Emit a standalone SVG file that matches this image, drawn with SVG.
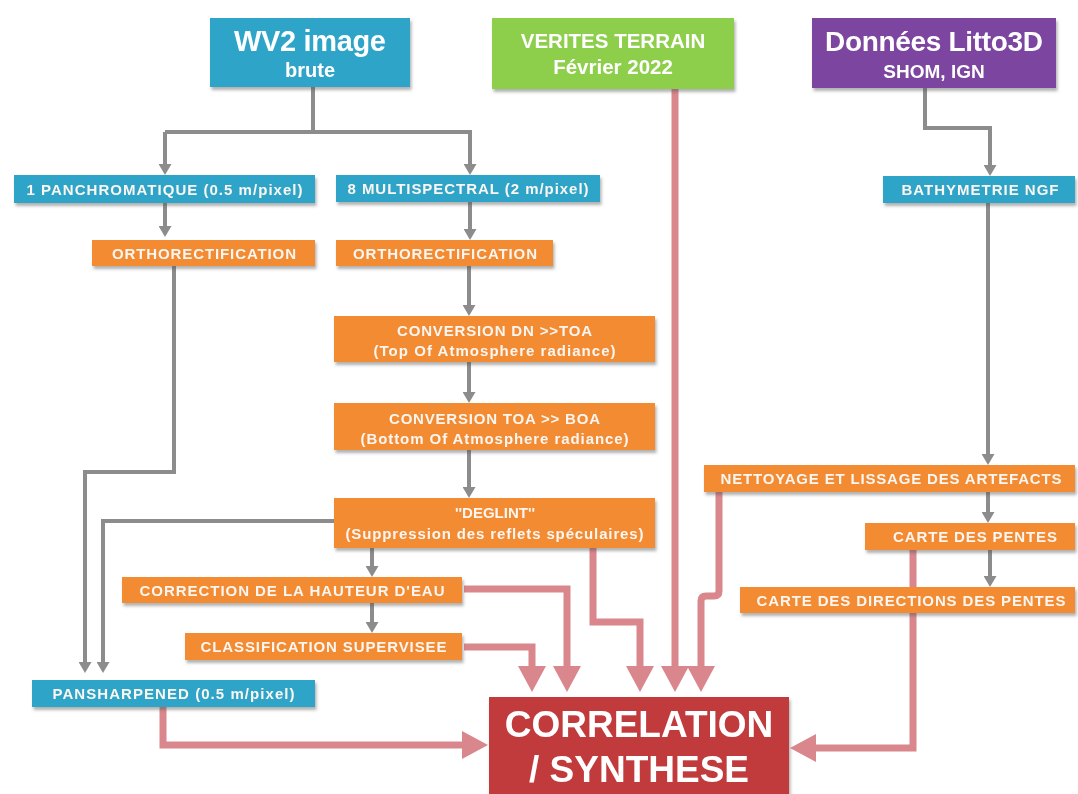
<svg xmlns="http://www.w3.org/2000/svg" width="1078" height="794" viewBox="0 0 1078 794">
  <defs>
    <filter id="shadow" x="-10%" y="-20%" width="120%" height="160%">
      <feDropShadow dx="1.5" dy="3" stdDeviation="1.6" flood-color="#555" flood-opacity="0.45"/>
    </filter>
    <marker id="gray-head" markerUnits="userSpaceOnUse" markerWidth="11" markerHeight="13" refX="0" refY="6.5" orient="auto">
      <path d="M0,0 L11,6.5 L0,13 z" fill="#8c8c8c"/>
    </marker>
    <marker id="pink-head" markerUnits="userSpaceOnUse" markerWidth="26" markerHeight="28" refX="0" refY="14" orient="auto">
      <path d="M0,0 L26,14 L0,28 z" fill="#d9878c"/>
    </marker>
  </defs>
  <style>
    .gray { fill: none; stroke: #8c8c8c; stroke-width: 4; marker-end: url(#gray-head); }
    .gray-plain { fill: none; stroke: #8c8c8c; stroke-width: 4; }
    .pink { fill: none; stroke: #d9878c; stroke-width: 7; marker-end: url(#pink-head); }
    .box { filter: url(#shadow); }
    .teal { fill: #2fa4c8; }
    .orange { fill: #f38b33; }
    .green { fill: #8dce4c; }
    .purple { fill: #7b44a0; }
    .red { fill: #c13a3c; }
    .lbl { font-family: "Liberation Sans", Arial, sans-serif; font-weight: bold; font-size: 15px; fill: #fbf6f1; text-anchor: middle; }
    .big { font-family: "Liberation Sans", Arial, sans-serif; font-weight: bold; fill: #ffffff; text-anchor: middle; }
  </style>

  <rect x="0" y="0" width="1078" height="794" fill="#ffffff"/>

  <!-- connectors -->
  <g id="connectors">
    <!-- gray flow -->
    <path class="gray-plain" d="M313,87 V132 H165"/>
    <path class="gray" d="M165,132 V164"/>
    <path class="gray" d="M313,132 H470 V164"/>
    <path class="gray" d="M165,203 V226"/>
    <path class="gray" d="M470,202 V229"/>
    <path class="gray" d="M174,266 V472 H85 V662"/>
    <path class="gray" d="M334,521 H103 V662"/>
    <path class="gray" d="M469,266 V305"/>
    <path class="gray" d="M469,362 V392"/>
    <path class="gray" d="M469,450 V487"/>
    <path class="gray" d="M372,548 V566"/>
    <path class="gray" d="M372,603 V622"/>
    <path class="gray" d="M925,88 V128 H990 V165"/>
    <path class="gray" d="M988,203 V454"/>
    <path class="gray" d="M988,492 V512"/>
    <path class="gray" d="M990,550 V576"/>

    <!-- pink flow into CORRELATION / SYNTHESE -->
    <path class="pink" d="M163,707 V745 H462"/>
    <path class="pink" d="M464,647 H532 V666"/>
    <path class="pink" d="M464,589 H567 V666"/>
    <path class="pink" d="M593,548 V622 H640 V666"/>
    <path class="pink" d="M675,89 V666"/>
    <path class="pink" d="M719,492 V591 Q719,596 714,596 H706 Q701,596 701,601 V666"/>
    <path class="pink" d="M913,550 V748 H816"/>
  </g>

  <!-- sources -->
  <g id="wv2" class="box">
    <rect class="teal" x="210" y="18" width="200" height="69"/>
    <text class="big" x="310" y="51" font-size="29" textLength="152">WV2 image</text>
    <text class="big" x="310" y="77" font-size="20">brute</text>
  </g>
  <g id="verites" class="box">
    <rect class="green" x="492" y="18" width="242" height="71"/>
    <text class="big" x="613" y="48" font-size="20.5">VERITES TERRAIN</text>
    <text class="big" x="613" y="74" font-size="20.5">Février 2022</text>
  </g>
  <g id="litto3d" class="box">
    <rect class="purple" x="812" y="18" width="244" height="70"/>
    <text class="big" x="934" y="51" font-size="28" fill="#f3ecf5" textLength="218">Données Litto3D</text>
    <text class="big" x="934" y="78" font-size="19" fill="#f3ecf5">SHOM, IGN</text>
  </g>

  <!-- WV2 branch -->
  <g id="panchro" class="box">
    <rect class="teal" x="14" y="175" width="301" height="28"/>
    <text class="lbl" x="164.5" y="194.5" textLength="276">1 PANCHROMATIQUE (0.5 m/pixel)</text>
  </g>
  <g id="multispectral" class="box">
    <rect class="teal" x="336" y="175" width="264" height="27"/>
    <text class="lbl" x="468" y="194" textLength="241">8 MULTISPECTRAL (2 m/pixel)</text>
  </g>
  <g id="ortho-pan" class="box">
    <rect class="orange" x="92" y="240" width="223" height="26"/>
    <text class="lbl" x="204" y="258.5" textLength="184">ORTHORECTIFICATION</text>
  </g>
  <g id="ortho-ms" class="box">
    <rect class="orange" x="336" y="240" width="217" height="26"/>
    <text class="lbl" x="445" y="258.5" textLength="184">ORTHORECTIFICATION</text>
  </g>
  <g id="conv-dn-toa" class="box">
    <rect class="orange" x="334" y="316" width="321" height="46"/>
    <text class="lbl" x="494.5" y="336" textLength="195">CONVERSION DN &gt;&gt;TOA</text>
    <text class="lbl" x="494.5" y="356" textLength="242">(Top Of Atmosphere radiance)</text>
  </g>
  <g id="conv-toa-boa" class="box">
    <rect class="orange" x="334" y="403" width="321" height="47"/>
    <text class="lbl" x="494.5" y="424" textLength="211">CONVERSION TOA &gt;&gt; BOA</text>
    <text class="lbl" x="494.5" y="443.5" textLength="268">(Bottom Of Atmosphere radiance)</text>
  </g>
  <g id="deglint" class="box">
    <rect class="orange" x="334" y="498" width="321" height="50"/>
    <text class="lbl" x="495" y="518">''DEGLINT''</text>
    <text class="lbl" x="494.5" y="539" textLength="298">(Suppression des reflets spéculaires)</text>
  </g>
  <g id="correction" class="box">
    <rect class="orange" x="122" y="577" width="340" height="26"/>
    <text class="lbl" x="292" y="595.5" textLength="305">CORRECTION DE LA HAUTEUR D'EAU</text>
  </g>
  <g id="classification" class="box">
    <rect class="orange" x="185" y="633" width="277" height="27"/>
    <text class="lbl" x="323.5" y="652" textLength="246">CLASSIFICATION SUPERVISEE</text>
  </g>
  <g id="pansharpened" class="box">
    <rect class="teal" x="32" y="680" width="283" height="27"/>
    <text class="lbl" x="173.5" y="699" textLength="242">PANSHARPENED (0.5 m/pixel)</text>
  </g>

  <!-- Litto3D branch -->
  <g id="bathymetrie" class="box">
    <rect class="teal" x="883" y="176" width="192" height="27"/>
    <text class="lbl" x="980" y="195" textLength="157">BATHYMETRIE NGF</text>
  </g>
  <g id="nettoyage" class="box">
    <rect class="orange" x="704" y="465" width="371" height="27"/>
    <text class="lbl" x="891" y="484" textLength="341">NETTOYAGE ET LISSAGE DES ARTEFACTS</text>
  </g>
  <g id="carte-pentes" class="box">
    <rect class="orange" x="865" y="523" width="210" height="27"/>
    <text class="lbl" x="975" y="542" textLength="164">CARTE DES PENTES</text>
  </g>
  <g id="carte-directions" class="box">
    <rect class="orange" x="740" y="587" width="335" height="26"/>
    <text class="lbl" x="911" y="605.5" textLength="309">CARTE DES DIRECTIONS DES PENTES</text>
  </g>

  <!-- result -->
  <g id="correlation" class="box">
    <rect class="red" x="489" y="697" width="300" height="110"/>
    <text class="big" x="639" y="737" font-size="37">CORRELATION</text>
    <text class="big" x="639" y="782" font-size="37">/ SYNTHESE</text>
  </g>
</svg>
